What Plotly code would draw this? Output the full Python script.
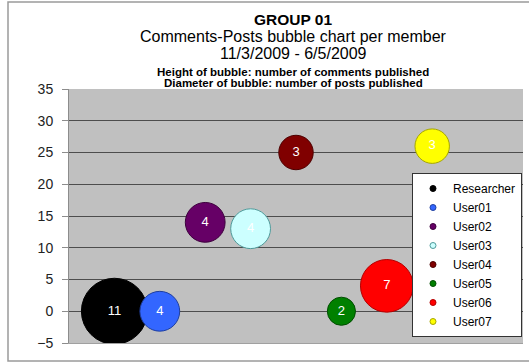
import plotly.graph_objects as go

# Group members, one bubble each
members = ["Researcher", "User01", "User02", "User03", "User04", "User05", "User06", "User07"]
member_pos = [1, 2, 3, 4, 5, 6, 7, 8]
comments = [0, 0, 14, 13, 25, 0, 4, 26]   # bubble height
posts = [11, 4, 4, 4, 3, 2, 7, 3]         # bubble size

fill_colors = ["#000000", "#3366ff", "#660066", "#ccffff",
               "#800000", "#008000", "#ff0000", "#ffff00"]
edge_colors = ["#000000", "#1f3f9f", "#3d003d", "#4f9a9a",
               "#4d0000", "#004d00", "#b30000", "#a6a600"]

title_lines = [
    ("GROUP 01", 15.5, True),
    ("Comments-Posts bubble chart per member", 16, False),
    ("11/3/2009 - 6/5/2009", 16, False),
    ("Height of bubble: number of comments published", 11.5, True),
    ("Diameter of bubble: number of posts published", 11.5, True),
]

W, H = 529, 362
ML, MR, MT, MB = 69, 6, 89, 19
PW, PH = W - ML - MR, H - MT - MB

def px_x(px):
    return (px - ML) / PW

def px_y(py):
    return (H - MB - py) / PH

FONT = "Liberation Sans, Arial, sans-serif"
BUBBLE_MAX = 66  # px diameter of the largest bubble

fig = go.Figure()

for i, name in enumerate(members):
    fig.add_trace(go.Scatter(
        x=[member_pos[i]], y=[comments[i]],
        mode="markers+text",
        text=[str(posts[i])],
        textposition="middle center",
        textfont=dict(family=FONT, size=13, color="white"),
        marker=dict(size=[posts[i]], sizemode="area",
                    sizeref=2.0 * max(posts) / BUBBLE_MAX ** 2,
                    color=fill_colors[i],
                    line=dict(color=edge_colors[i], width=1),
                    opacity=1),
        name=name, legendgroup=name, showlegend=False,
        hoverinfo="skip",
    ))

# Legend entries with small dots
for i, name in enumerate(members):
    fig.add_trace(go.Scatter(
        x=[None], y=[None], mode="markers",
        marker=dict(size=6, color=fill_colors[i],
                    line=dict(color=edge_colors[i], width=1)),
        name=name, legendgroup=name, showlegend=True,
    ))

annotations = []
title_y = [19, 37, 53, 72, 83]
for (txt, size, bold), ty in zip(title_lines, title_y):
    annotations.append(dict(
        text=f"<b>{txt}</b>" if bold else txt,
        x=px_x(293), y=px_y(ty), xref="paper", yref="paper",
        xanchor="center", yanchor="middle", showarrow=False,
        font=dict(family=FONT, size=size, color="#000000"),
    ))

fig.update_layout(
    width=W, height=H, autosize=False,
    margin=dict(l=ML, r=MR, t=MT, b=MB, pad=0),
    paper_bgcolor="white",
    plot_bgcolor="#c0c0c0",
    showlegend=True,
    legend=dict(
        x=px_x(522), y=px_y(173), xanchor="right", yanchor="top",
        bgcolor="white", bordercolor="#333333", borderwidth=1,
        font=dict(family=FONT, size=12, color="#000000"),
        tracegroupgap=0,
    ),
    xaxis=dict(range=[0, 10], showticklabels=False, showgrid=False,
               zeroline=False, showline=True, linecolor="#a0a0a0",
               linewidth=1, ticks=""),
    yaxis=dict(range=[-5, 35], tick0=-5, dtick=5,
               showgrid=True, gridcolor="#4d4d4d", gridwidth=1,
               zeroline=False, showline=True, linecolor="#8c8c8c",
               linewidth=1, ticks="outside", ticklen=6,
               tickcolor="#8c8c8c", ticklabelstandoff=6,
               tickfont=dict(family=FONT, size=14, color="#222222")),
    annotations=annotations,
    shapes=[dict(type="rect", xref="paper", yref="paper",
                 x0=px_x(8), x1=px_x(540), y0=px_y(361), y1=px_y(2),
                 line=dict(color="#9a9a9a", width=1.5),
                 fillcolor="rgba(0,0,0,0)", layer="below")],
)

fig.write_html("out.html")
